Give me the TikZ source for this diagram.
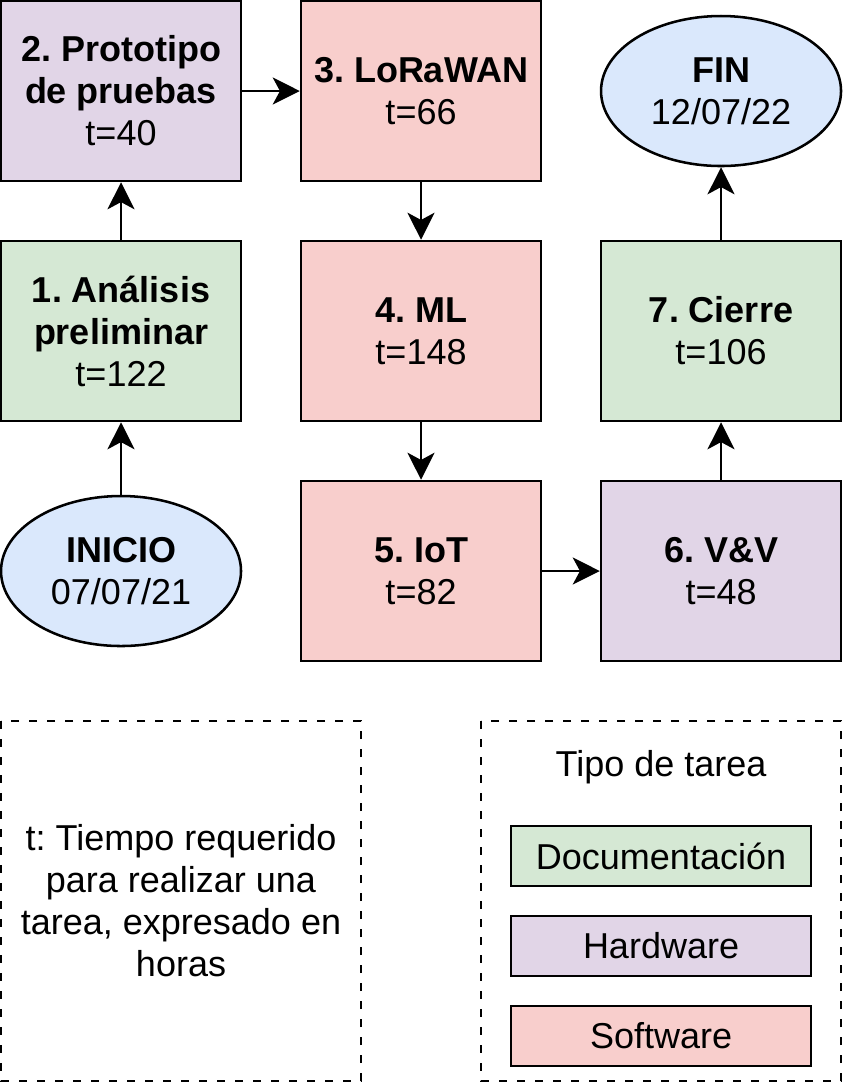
\documentclass[tikz,border=0pt]{standalone}
\usepackage{fontspec}
\setmainfont{Liberation Sans}
\frenchspacing
\usetikzlibrary{shapes.geometric,arrows.meta}
\tikzset{>={Stealth[length=4.5mm,width=4.5mm,inset=1.2mm]}}
\definecolor{docColor}{HTML}{D5E8D4}
\definecolor{hwColor}{HTML}{E1D5E7}
\definecolor{swColor}{HTML}{F8CECC}
\definecolor{endColor}{HTML}{DAE8FC}
\newcommand{\taskfont}{\fontsize{17.07}{19.9}\selectfont}
\tikzset{
  task/.style={draw,line width=1.2pt,minimum width=4cm,minimum height=3cm,inner sep=0pt,align=center,font=\taskfont},
  milestone/.style={ellipse,draw,line width=1.2pt,fill=endColor,minimum width=4cm,minimum height=2.5cm,inner sep=0pt,align=center,font=\taskfont},
  legitem/.style={draw,line width=1.2pt,minimum width=5cm,minimum height=1cm,inner sep=0pt,font=\taskfont},
  legbox/.style={draw,line width=1.2pt,dash pattern=on 1.35mm off 1.65mm},
  flow/.style={->,line width=1.2pt}
}

\begin{document}
\begin{tikzpicture}
\useasboundingbox (-0.017,0.017) rectangle (14.033,-18.033);
\node[milestone] (ini) at (2,-9.5) {\textbf{INICIO}\\07/07/21};
\node[task,fill=docColor] (t1) at (2,-5.5) {\textbf{1. Análisis}\\\textbf{preliminar}\\t=122};
\node[task,fill=hwColor] (t2) at (2,-1.5) {\textbf{2. Prototipo}\\\textbf{de pruebas}\\t=40};
\node[task,fill=swColor] (t3) at (7,-1.5) {\textbf{3. LoRaWAN}\\t=66};
\node[task,fill=swColor] (t4) at (7,-5.5) {\textbf{4. ML}\\t=148};
\node[task,fill=swColor] (t5) at (7,-9.5) {\textbf{5. IoT}\\t=82};
\node[task,fill=hwColor] (t6) at (12,-9.5) {\textbf{6. V\&V}\\t=48};
\node[task,fill=docColor] (t7) at (12,-5.5) {\textbf{7. Cierre}\\t=106};
\node[milestone] (fin) at (12,-1.5) {\textbf{FIN}\\12/07/22};
\draw[flow] (ini) -- (t1);
\draw[flow] (t1) -- (t2);
\draw[flow] (t2) -- (t3);
\draw[flow] (t3) -- (t4);
\draw[flow] (t4) -- (t5);
\draw[flow] (t5) -- (t6);
\draw[flow] (t6) -- (t7);
\draw[flow] (t7) -- (fin);
% legend
\draw[legbox] (0,-12) rectangle (6,-18);
\node[align=center,font=\taskfont] (note) at (3,-15) {t: Tiempo requerido\\para realizar una\\tarea, expresado en\\horas};
\draw[legbox] (8,-12) rectangle (14,-18);
\node[font=\taskfont] (tipo) at (11,-12.77) {Tipo de tarea};
\node[legitem,fill=docColor] (ldoc) at (11,-14.25) {Documentación};
\node[legitem,fill=hwColor] (lhw) at (11,-15.75) {Hardware};
\node[legitem,fill=swColor] (lsw) at (11,-17.25) {Software};
\end{tikzpicture}
\end{document}
